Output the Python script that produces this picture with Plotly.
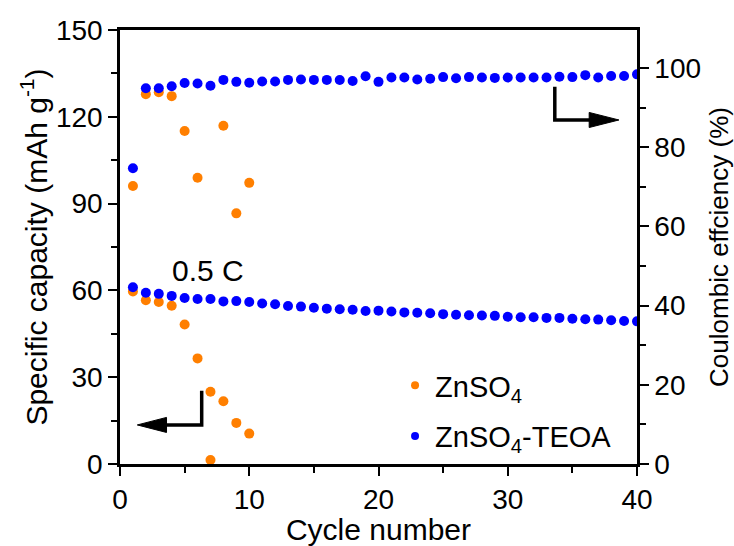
import plotly.graph_objects as go

cycles_a = list(range(1, 11))
cap_a = [59.6, 56.6, 56.0, 54.7, 48.2, 36.5, 25.0, 21.7, 14.2, 10.5]
ce_a = [70.2, 93.4, 93.9, 92.9, 84.1, 72.3, 1.0, 85.4, 63.3, 71.0]

cycles_b = list(range(1, 41))
cap_b = [61.1, 59.2, 58.8, 58.1, 57.4, 57.0, 57.0, 56.2, 56.3, 56.0,
         55.5, 55.2, 54.6, 54.4, 54.0, 53.7, 53.5, 53.3, 52.9, 53.0,
         52.7, 52.4, 52.3, 52.1, 51.8, 51.6, 51.4, 51.3, 51.2, 50.9,
         50.7, 50.7, 50.5, 50.5, 50.2, 50.0, 49.9, 49.7, 49.4, 49.3]
ce_b = [74.7, 94.9, 94.9, 95.4, 96.2, 96.1, 95.5, 97.0, 96.5, 96.3,
        96.6, 96.6, 97.0, 97.1, 97.0, 97.0, 96.97, 96.7, 97.9, 96.5,
        97.6, 97.6, 97.1, 97.3, 97.7, 97.4, 97.7, 97.6, 97.5, 97.6,
        97.6, 97.6, 97.6, 97.8, 97.7, 98.2, 97.6, 98.0, 98.0, 98.4]

names = ["ZnSO<sub>4</sub>", "ZnSO<sub>4</sub>-TEOA"]
ORANGE = "#FF7F00"
BLUE = "#0000FF"
FONT = "Liberation Sans, Arial, sans-serif"
TICK = 28
TITLE = 30

fig = go.Figure()
ms = 10
fig.add_trace(go.Scatter(x=cycles_a, y=cap_a, mode="markers", marker=dict(color=ORANGE, size=ms), showlegend=False, yaxis="y"))
fig.add_trace(go.Scatter(x=cycles_a, y=ce_a, mode="markers", marker=dict(color=ORANGE, size=ms), showlegend=False, yaxis="y2"))
fig.add_trace(go.Scatter(x=cycles_b, y=cap_b, mode="markers", marker=dict(color=BLUE, size=ms), showlegend=False, yaxis="y"))
fig.add_trace(go.Scatter(x=cycles_b, y=ce_b, mode="markers", marker=dict(color=BLUE, size=ms), showlegend=False, yaxis="y2"))
# legend entries
fig.add_trace(go.Scatter(x=[None], y=[None], mode="markers", marker=dict(color=ORANGE, size=8), name=names[0], legendgroup="a"))
fig.add_trace(go.Scatter(x=[None], y=[None], mode="markers", marker=dict(color=BLUE, size=8), name=names[1], legendgroup="b"))

axis_common = dict(showline=True, linecolor="black", linewidth=2.5, ticks="outside", ticklen=9, tickwidth=2,
                   tickcolor="black", showgrid=False, zeroline=False, automargin=False,
                   tickfont=dict(size=TICK, color="black", family=FONT))
minor_common = dict(ticks="outside", ticklen=6, tickwidth=2, tickcolor="black")

fig.update_layout(
    width=734, height=546,
    margin=dict(l=120, r=97, t=30, b=82),
    plot_bgcolor="white", paper_bgcolor="white",
    font=dict(family=FONT, color="black", size=TICK),
    xaxis=dict(range=[0, 40], tickvals=[0, 10, 20, 30, 40], mirror=True,
               minor=dict(tickvals=[5, 15, 25, 35], **minor_common),
               title=dict(text="Cycle number", font=dict(size=TITLE), standoff=0), **axis_common),
    yaxis=dict(range=[0, 150], tickvals=[0, 30, 60, 90, 120, 150],
               minor=dict(tickvals=[15, 45, 75, 105, 135], **minor_common),
               title=dict(text="Specific capacity (mAh g<sup>-1</sup>)", font=dict(size=TITLE), standoff=0), **axis_common),
    yaxis2=dict(range=[0, 109.6], overlaying="y", side="right", tickvals=[0, 20, 40, 60, 80, 100],
                minor=dict(tickvals=[10, 30, 50, 70, 90], **minor_common),
                title=dict(text="Coulombic effciency (%)", font=dict(size=26), standoff=10), **axis_common),
    legend=dict(x=0.532, y=0.24, xanchor="left", yanchor="top", bgcolor="rgba(0,0,0,0)",
                font=dict(size=29), traceorder="grouped", tracegroupgap=10, itemwidth=30),
)

fig.add_annotation(x=6.8, y=67, xref="x", yref="y", text="0.5 C", showarrow=False,
                   font=dict(size=TITLE, color="black"))

# Left arrow (L shape pointing left)
fig.add_shape(type="path", xref="x", yref="y", path="M 6.32 25.3 L 6.32 13.5 L 3.3 13.5",
              line=dict(color="black", width=3.5))
fig.add_shape(type="path", xref="x", yref="y", path="M 1.34 13.5 L 3.6 16.1 L 3.6 10.9 Z",
              fillcolor="black", line=dict(color="black", width=1))
# Right arrow (L shape pointing right)
fig.add_shape(type="path", xref="x", yref="y", path="M 33.64 130.4 L 33.64 118.9 L 36.6 118.9",
              line=dict(color="black", width=3.5))
fig.add_shape(type="path", xref="x", yref="y", path="M 38.6 118.9 L 36.3 121.5 L 36.3 116.3 Z",
              fillcolor="black", line=dict(color="black", width=1))

fig.write_html("out.html")
